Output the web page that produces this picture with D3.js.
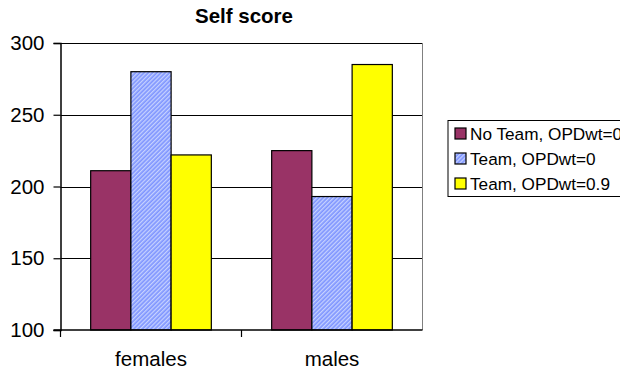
<!DOCTYPE html>
<html>
<head>
<meta charset="utf-8">
<script src="https://cdn.jsdelivr.net/npm/d3@7/dist/d3.min.js"></script>
<style>
  html, body { margin: 0; padding: 0; background: #fff; overflow: hidden; }
  svg { display: block; font-family: "Liberation Sans", Arial, sans-serif; }
</style>
</head>
<body>
<svg id="chart" width="620" height="373"></svg>
<script>
// Chart data
const categories = ["females", "males"];
const seriesNames = ["No Team, OPDwt=0", "Team, OPDwt=0", "Team, OPDwt=0.9"];
const noTeam = [211, 225];
const team0 = [280, 193];
const team09 = [222, 285];
const yTicks = [100, 150, 200, 250, 300];
const seriesValues = [noTeam, team0, team09];

const svg = d3.select("#chart");
const plot = { left: 60.5, top: 43, right: 422.5, bottom: 330 };

// Diagonal hatch used for the second series
const defs = svg.append("defs");
const pat = defs.append("pattern")
  .attr("id", "hatch")
  .attr("patternUnits", "userSpaceOnUse")
  .attr("width", 3).attr("height", 3)
  .attr("patternTransform", "rotate(-45)");
pat.append("rect").attr("width", 3).attr("height", 3).attr("fill", "#7f95ff");
pat.append("rect").attr("width", 3).attr("height", 1.3).attr("fill", "#c6d2ff");

const fills = ["#993366", "url(#hatch)", "#ffff00"];

const x0 = d3.scaleBand().domain(categories).range([plot.left, plot.right]).paddingInner(0).paddingOuter(0);
const y = d3.scaleLinear().domain([100, 300]).range([plot.bottom, plot.top]);
const barW = x0.bandwidth() / 4.5;
const x1 = d3.scaleBand().domain(d3.range(seriesNames.length))
  .range([0, barW * seriesNames.length]).padding(0);

// Gridlines
svg.append("g")
  .selectAll("line")
  .data(yTicks.filter(t => t > 100))
  .join("line")
  .attr("x1", plot.left).attr("x2", plot.right)
  .attr("y1", d => Math.round(y(d)) + 0.5).attr("y2", d => Math.round(y(d)) + 0.5)
  .attr("stroke", "#000").attr("stroke-width", 1);

// Right edge of the plot frame, in grey
svg.append("line")
  .attr("x1", plot.right).attr("x2", plot.right)
  .attr("y1", plot.top).attr("y2", plot.bottom)
  .attr("stroke", "#808080").attr("stroke-width", 1);

// Bars
const groups = svg.append("g").selectAll("g")
  .data(categories)
  .join("g")
  .attr("transform", d => `translate(${x0(d) + (x0.bandwidth() - barW * 3) / 2},0)`);

groups.selectAll("rect")
  .data((d, i) => seriesValues.map((s, k) => ({ k, v: s[i] })))
  .join("rect")
  .attr("x", d => x1(d.k))
  .attr("y", d => y(d.v))
  .attr("width", x1.bandwidth())
  .attr("height", d => y(100) - y(d.v))
  .attr("fill", d => fills[d.k])
  .attr("stroke", "#000")
  .attr("stroke-width", 1.2);

// Y axis
const yAxis = svg.append("g")
  .attr("transform", `translate(${plot.left},0)`)
  .call(d3.axisLeft(y).tickValues(yTicks).tickSize(7).tickPadding(9).tickFormat(d3.format("d")));
yAxis.select(".domain").attr("stroke", "#000").attr("stroke-width", 1.5);
yAxis.selectAll(".tick line").attr("stroke", "#000").attr("stroke-width", 1.2);
yAxis.selectAll("text").attr("font-size", 20.5).attr("fill", "#000")
  .attr("font-family", "Liberation Sans, Arial, sans-serif");

// X axis with ticks between categories
const xAxisG = svg.append("g").attr("transform", `translate(0,${plot.bottom})`);
xAxisG.append("line")
  .attr("x1", plot.left - 7).attr("x2", plot.right)
  .attr("stroke", "#000").attr("stroke-width", 1.5);
const boundaries = [plot.left, x0(categories[1])];
xAxisG.selectAll("line.tk")
  .data(boundaries)
  .join("line")
  .attr("class", "tk")
  .attr("x1", d => d).attr("x2", d => d)
  .attr("y1", 0).attr("y2", 7)
  .attr("stroke", "#000").attr("stroke-width", 1.2);
xAxisG.selectAll("text")
  .data(categories)
  .join("text")
  .attr("x", d => x0(d) + x0.bandwidth() / 2)
  .attr("y", 36)
  .attr("text-anchor", "middle")
  .attr("font-size", 20.5)
  .text(d => d);

// Title
svg.append("text")
  .attr("x", 244).attr("y", 23)
  .attr("text-anchor", "middle")
  .attr("font-size", 20.5)
  .attr("font-weight", "bold")
  .text("Self score");

// Legend
const legend = svg.append("g");
legend.append("rect")
  .attr("x", 448).attr("y", 120.5)
  .attr("width", 200).attr("height", 76)
  .attr("fill", "#fff").attr("stroke", "#000").attr("stroke-width", 1);
const rows = legend.selectAll("g.row")
  .data(seriesNames)
  .join("g")
  .attr("class", "row")
  .attr("transform", (d, i) => `translate(455,${133.5 + i * 25})`);
rows.append("rect")
  .attr("x", 0).attr("y", -5.5)
  .attr("width", 11).attr("height", 11)
  .attr("fill", (d, i) => fills[i])
  .attr("stroke", "#000").attr("stroke-width", 1.2);
rows.append("text")
  .attr("x", 15).attr("y", 6)
  .attr("font-size", 17.2)
  .text(d => d);
</script>
</body>
</html>
